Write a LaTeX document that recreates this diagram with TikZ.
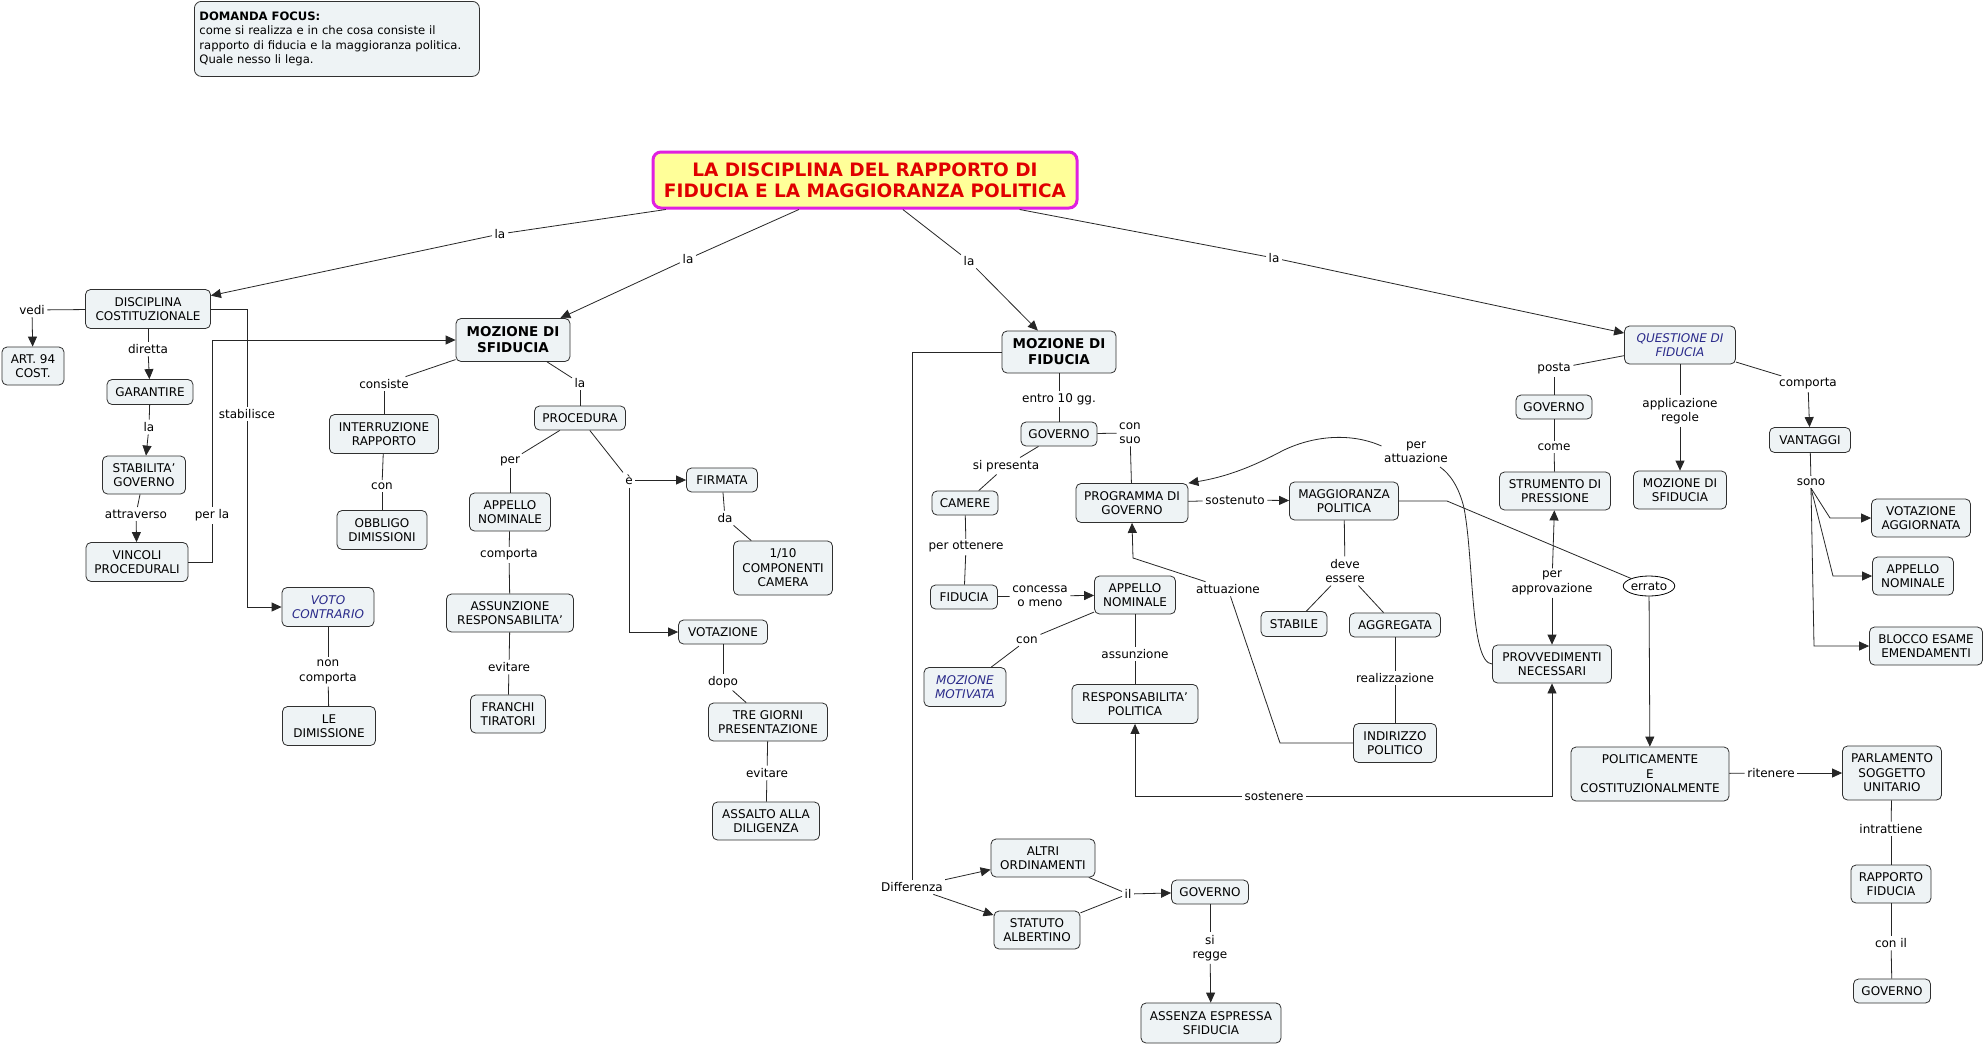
\documentclass[tikz,border=0pt]{standalone}
\usepackage{fontspec}
\setmainfont{DejaVu Sans}
\usetikzlibrary{arrows.meta,shapes.geometric}
\definecolor{boxfill}{HTML}{EEF3F5}
\definecolor{boxline}{HTML}{303030}
\definecolor{itblue}{HTML}{2A2A8A}
\definecolor{titlefill}{HTML}{FFFF99}
\definecolor{titleline}{HTML}{E020E0}
\definecolor{titletext}{HTML}{E00000}
\hyphenpenalty=10000
\exhyphenpenalty=10000
\newcommand\cmline[3]{\draw[conn] (#1) -- (#2); \draw[conn] (#2) -- (#3);}
\newcommand\cmarrow[3]{\draw[conn] (#1) -- (#2); \draw[arr] (#2) -- (#3);}
\begin{document}
\begin{tikzpicture}[x=1pt,y=-1pt,
  txt/.style={font=\fontsize{12}{14.5}\selectfont},
  box/.style={txt,draw=boxline,line width=0.8pt,fill=boxfill,rounded corners=5pt,align=center,inner sep=1pt},
  sz/.style 2 args={minimum width=#1,minimum height=#2},
  bbox/.style={box,font=\fontsize{13.5}{16}\selectfont\bfseries},
  ibox/.style={box,font=\fontsize{12}{14.5}\selectfont\itshape,text=itblue},
  lab/.style={txt,inner sep=2.5pt,align=center},
  conn/.style={draw=black!85,line width=0.8pt},
  arr/.style={conn,-{Triangle[length=10pt,width=9pt]}}]
\fill[white] (0,0) rectangle (1984,1045);
\useasboundingbox (0,0) rectangle (1984,1045);

% focus question
\node[box,anchor=north west,align=left,text width=275pt,inner xsep=5pt,minimum height=75,rounded corners=7pt,
  font=\fontsize{11.6}{14.5}\selectfont] (focus) at (194,1)
 {\textbf{DOMANDA FOCUS:}\\come si realizza e in che cosa consiste il\\rapporto di fiducia e la maggioranza politica.\\Quale nesso li lega.};

% title
\node[draw=titleline,line width=3pt,fill=titlefill,rounded corners=8pt,align=center,text=titletext,
  font=\fontsize{18.5}{21}\selectfont\bfseries,minimum width=424,minimum height=56] (title) at (865,180)
 {LA DISCIPLINA DEL RAPPORTO DI\\FIDUCIA E LA MAGGIORANZA POLITICA};

% ---- left branch
\node[box,sz={125}{39}] (disc) at (148,309) {DISCIPLINA\\COSTITUZIONALE};
\node[box,sz={62}{38}] (art) at (33,366) {ART. 94\\COST.};
\node[box,sz={86}{25}] (gar) at (150,392) {GARANTIRE};
\node[box,sz={83}{38}] (stab) at (144,475) {STABILITA'\\GOVERNO};
\node[box,sz={102}{39}] (vinc) at (137,562) {VINCOLI\\PROCEDURALI};
\node[ibox,sz={92}{39}] (voto) at (328,607) {VOTO\\CONTRARIO};
\node[box,sz={93}{39}] (dimis) at (329,726) {LE\\DIMISSIONE};

\node[lab] (vedi) at (32,310) {vedi};
\node[lab] (diretta) at (148,349) {diretta};
\node[lab] (laA) at (149,427) {la};
\node[lab] (attrav) at (136,514) {attraverso};
\node[lab] (perla) at (212,515) {per la};
\node[lab] (stabil) at (247,414) {stabilisce};
\node[lab] (noncomp) at (328,672) {non\\comporta};

% ---- mozione di sfiducia
\node[bbox,sz={114}{43}] (mozsf) at (513,340) {MOZIONE DI\\SFIDUCIA};
\node[box,sz={109}{39}] (interr) at (384,434) {INTERRUZIONE\\RAPPORTO};
\node[box,sz={90}{39}] (obbl) at (382,530) {OBBLIGO\\DIMISSIONI};
\node[box,sz={91}{24}] (proc) at (580,418) {PROCEDURA};
\node[box,sz={81}{38}] (appA) at (510,512) {APPELLO\\NOMINALE};
\node[box,sz={127}{38}] (assunz) at (510,613) {ASSUNZIONE\\RESPONSABILITA'};
\node[box,sz={75}{38}] (franchi) at (508,714) {FRANCHI\\TIRATORI};
\node[box,sz={71}{24}] (firm) at (722,480) {FIRMATA};
\node[box,sz={99}{54}] (compo) at (783,568) {1/10\\COMPONENTI\\CAMERA};
\node[box,sz={89}{24}] (votaz) at (723,632) {VOTAZIONE};
\node[box,sz={119}{38}] (tre) at (768,722) {TRE GIORNI\\PRESENTAZIONE};
\node[box,sz={107}{38}] (assalto) at (766,821) {ASSALTO ALLA\\DILIGENZA};

\node[lab] (consiste) at (384,384) {consiste};
\node[lab] (conA) at (382,486) {con};
\node[lab] (laB) at (580,383) {la};
\node[lab] (perA) at (510,461) {per};
\node[lab] (comportaA) at (509,555) {comporta};
\node[lab] (evitA) at (509,667) {evitare};
\node[lab] (e) at (629,480) {è};
\node[lab] (da) at (725,518) {da};
\node[lab] (dopo) at (723,682) {dopo};
\node[lab] (evitB) at (767,773) {evitare};

% ---- mozione di fiducia
\node[bbox,sz={114}{42}] (mozf) at (1059,352) {MOZIONE DI\\FIDUCIA};
\node[box,sz={76}{24}] (govA) at (1059,434) {GOVERNO};
\node[box,sz={66}{24}] (camere) at (965,503) {CAMERE};
\node[box,sz={67}{24}] (fid) at (964,597) {FIDUCIA};
\node[box,sz={81}{38}] (appB) at (1135,595) {APPELLO\\NOMINALE};
\node[ibox,sz={82}{39}] (motiv) at (965,687) {MOZIONE\\MOTIVATA};
\node[box,sz={126}{39}] (resp) at (1135,704) {RESPONSABILITA'\\POLITICA};
\node[box,sz={112}{39}] (prog) at (1132,503) {PROGRAMMA DI\\GOVERNO};
\node[box,sz={109}{38}] (magg) at (1344,501) {MAGGIORANZA\\POLITICA};
\node[box,sz={66}{25}] (stabile) at (1294,624) {STABILE};
\node[box,sz={91}{24}] (aggr) at (1395,625) {AGGREGATA};
\node[box,sz={83}{39}] (indir) at (1395,743) {INDIRIZZO\\POLITICO};
\node[box,sz={119}{38}] (provv) at (1552,664) {PROVVEDIMENTI\\NECESSARI};
\node[box,sz={111}{38}] (strum) at (1555,491) {STRUMENTO DI\\PRESSIONE};
\node[txt,draw=black,line width=0.8pt,fill=white,ellipse,inner sep=0pt,minimum width=44,minimum height=20] (errato) at (1649,586) {errato};
\node[box,sz={158}{54}] (polit) at (1650,774) {POLITICAMENTE\\E\\COSTITUZIONALMENTE};
\node[box,sz={99}{54}] (parl) at (1892,773) {PARLAMENTO\\SOGGETTO\\UNITARIO};
\node[box,sz={80}{38}] (rapp) at (1891,884) {RAPPORTO\\FIDUCIA};
\node[box,sz={77}{24}] (govD) at (1892,991) {GOVERNO};
\node[box,sz={104}{38}] (altri) at (1043,858) {ALTRI\\ORDINAMENTI};
\node[box,sz={86}{38}] (statuto) at (1037,930) {STATUTO\\ALBERTINO};
\node[box,sz={77}{24}] (govC) at (1210,892) {GOVERNO};
\node[box,sz={140}{40}] (assenza) at (1211,1023) {ASSENZA ESPRESSA\\SFIDUCIA};

\node[lab] (entro) at (1059,399) {entro 10 gg.};
\node[lab] (consuo) at (1130,433) {con\\suo};
\node[lab] (sipres) at (1006,466) {si presenta};
\node[lab] (perott) at (966,547) {per ottenere};
\node[lab] (concessa) at (1040,596) {concessa\\o meno};
\node[lab] (conB) at (1027,640) {con};
\node[lab] (assunzione) at (1135,654) {assunzione};
\node[lab] (sostenuto) at (1235,500) {sostenuto};
\node[lab] (attu) at (1228,589) {attuazione};
\node[lab] (deve) at (1345,571) {deve\\essere};
\node[lab] (realizz) at (1395,678) {realizzazione};
\node[lab] (pattu) at (1416,452) {per\\attuazione};
\node[lab] (papp) at (1552,583) {per\\approvazione};
\node[lab] (come) at (1554,447) {come};
\node[lab] (sostenere) at (1274,796) {sostenere};
\node[lab] (diff) at (912,887) {Differenza};
\node[lab] (il) at (1128,894) {il};
\node[lab] (siregge) at (1210,948) {si\\regge};
\node[lab] (ritenere) at (1771,773) {ritenere};
\node[lab] (intratt) at (1891,829) {intrattiene};
\node[lab] (conil) at (1891,943) {con il};

% ---- questione di fiducia
\node[ibox,sz={111}{38}] (quest) at (1680,345) {QUESTIONE DI\\FIDUCIA};
\node[box,sz={76}{24}] (govB) at (1554,407) {GOVERNO};
\node[box,sz={93}{38}] (mozsfB) at (1680,490) {MOZIONE DI\\SFIDUCIA};
\node[box,sz={81}{25}] (vant) at (1810,440) {VANTAGGI};
\node[box,sz={99}{38}] (votagg) at (1921,518) {VOTAZIONE\\AGGIORNATA};
\node[box,sz={81}{38}] (appC) at (1913,576) {APPELLO\\NOMINALE};
\node[box,sz={113}{38}] (blocco) at (1926,646) {BLOCCO ESAME\\EMENDAMENTI};

\node[lab] (posta) at (1554,369) {posta};
\node[lab] (applreg) at (1680,411) {applicazione\\regole};
\node[lab] (comportaB) at (1808,384) {comporta};
\node[lab] (sono) at (1811,482) {sono};

% title labels
\node[lab] (la1) at (500,234) {la};
\node[lab] (la2) at (688,259) {la};
\node[lab] (la3) at (969,261) {la};
\node[lab] (la4) at (1274,258) {la};

% ---------- connectors
\cmarrow{title}{la1}{disc}
\cmarrow{title}{la2}{mozsf}
\cmarrow{title}{la3}{mozf}
\cmarrow{title}{la4}{quest}

\cmarrow{disc}{vedi}{art}
\cmarrow{disc}{diretta}{gar}
\cmarrow{gar}{laA}{stab}
\cmarrow{stab}{attrav}{vinc}
\draw[conn] (vinc.east) -| (perla);
\draw[arr] (perla) |- (mozsf.west);
\draw[conn] (disc.east) -| (stabil);
\draw[arr] (stabil) |- (voto.west);
\cmline{voto}{noncomp}{dimis}

\cmline{mozsf}{consiste}{interr}
\cmline{interr}{conA}{obbl}
\cmline{mozsf}{laB}{proc}
\cmline{proc}{perA}{appA}
\cmline{appA}{comportaA}{assunz}
\cmline{assunz}{evitA}{franchi}
\cmarrow{proc}{e}{firm}
\draw[arr] (e) |- (votaz.west);
\cmline{firm}{da}{compo}
\cmline{votaz}{dopo}{tre}
\cmline{tre}{evitB}{assalto}

\cmline{mozf}{entro}{govA}
\cmline{govA}{consuo}{prog}
\cmline{govA}{sipres}{camere}
\cmline{camere}{perott}{fid}
\cmarrow{fid}{concessa}{appB}
\cmline{appB}{conB}{motiv}
\cmline{appB}{assunzione}{resp}
\cmarrow{prog}{sostenuto}{magg}
\cmline{magg}{deve}{stabile}
\draw[conn] (deve) -- (aggr);
\cmline{aggr}{realizz}{indir}
\draw[conn] (indir.west) -- (1280,743) -- (attu);
\draw[arr] (attu) -- (1133,558) -- (prog.south);
\draw[arr] (sostenere.west) -| (resp.south);
\draw[arr] (sostenere.east) -| (provv.south);
\draw[conn] (provv.west) .. controls (1470,663) and (1474,560) .. (1464,508) .. controls (1459,487) and (1450,474) .. (1440,467);
\draw[arr] ([yshift=6pt]pattu.west) .. controls (1350,432) and (1312,436) .. (1282,451) .. controls (1250,468) and (1225,477) .. (prog.north east);
\draw[conn] (magg.east) -- (1447,501) -- (errato);
\draw[arr] (errato) -- (polit);
\cmarrow{polit}{ritenere}{parl}
\cmline{parl}{intratt}{rapp}
\cmline{rapp}{conil}{govD}

\draw[conn] (mozf.west) -| (diff);
\draw[arr] (diff) -- (altri);
\draw[arr] (diff) -- (statuto);
\draw[conn] (altri) -- (il);
\draw[conn] (statuto) -- (il);
\draw[arr] (il) -- (govC);
\cmarrow{govC}{siregge}{assenza}

\cmline{quest}{posta}{govB}
\cmline{govB}{come}{strum}
\draw[arr] (papp) -- (strum);
\draw[arr] (papp) -- (provv);
\cmarrow{quest}{applreg}{mozsfB}
\cmarrow{quest}{comportaB}{vant}
\draw[conn] (vant) -- (sono);
\draw[arr] (sono.south) -- (1830,518) -- (votagg.west);
\draw[arr] (sono.south) -- (1833,576) -- (appC.west);
\draw[arr] (sono.south) -- (1814,646) -- (blocco.west);
\end{tikzpicture}
\end{document}
